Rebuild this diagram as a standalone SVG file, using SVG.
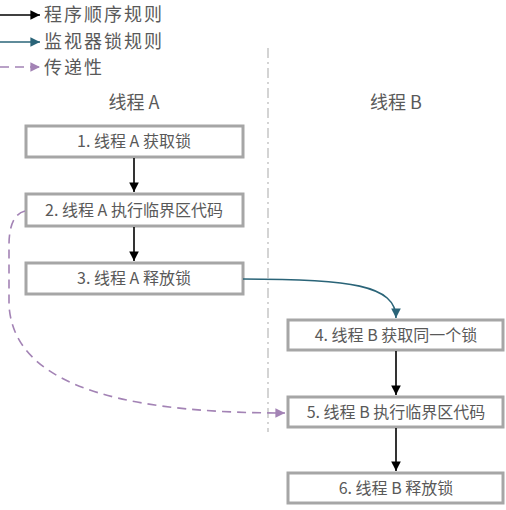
<svg xmlns="http://www.w3.org/2000/svg" width="506" height="510" viewBox="0 0 506 510">
<style>
text{font-family:"Noto Sans CJK SC","Liberation Sans",sans-serif;fill:#595959}
.box rect{fill:#fff;stroke:#a6a6a6;stroke-width:3}
.box text{font-size:16px;text-anchor:middle}
.hdr{font-size:18px;text-anchor:middle}
.leg{font-size:18px;letter-spacing:2px}
.blk{stroke:#000;stroke-width:1.6;fill:none}
.teal{stroke:#2a6478;stroke-width:1.6;fill:none}
.pur{stroke:#a383b5;stroke-width:1.6;fill:none;stroke-dasharray:9 6}
</style>
<defs>
<marker id="ab" viewBox="0 0 10 10" refX="10" refY="5" markerWidth="6" markerHeight="6" orient="auto" markerUnits="strokeWidth"><path d="M0,0L10,5L0,10z" fill="#000"/></marker>
<marker id="at" viewBox="0 0 10 10" refX="10" refY="5" markerWidth="6" markerHeight="6" orient="auto" markerUnits="strokeWidth"><path d="M0,0L10,5L0,10z" fill="#2a6478"/></marker>
<marker id="ap" viewBox="0 0 10 10" refX="10" refY="5" markerWidth="6" markerHeight="6" orient="auto" markerUnits="strokeWidth"><path d="M0,0L10,5L0,10z" fill="#a383b5"/></marker>
</defs>
<g id="legend">
<line class="blk" x1="0" y1="15" x2="40" y2="15" marker-end="url(#ab)"/>
<text class="leg" x="44" y="21">程序顺序规则</text>
<line class="teal" x1="0" y1="42" x2="40" y2="42" marker-end="url(#at)"/>
<text class="leg" x="44" y="48">监视器锁规则</text>
<line class="pur" x1="0" y1="67" x2="40" y2="67" stroke-dasharray="10 7" marker-end="url(#ap)"/>
<text class="leg" x="44" y="74">传递性</text>
</g>
<line id="divider" x1="268" y1="48" x2="268" y2="432" stroke="#b8b8b8" stroke-width="1.2" stroke-dasharray="10 4 2 4"/>
<text class="hdr" x="134" y="109">线程 A</text>
<text class="hdr" x="396" y="109">线程 B</text>
<g id="n1" class="box"><rect x="26" y="126" width="217" height="31"/><text x="134" y="147">1. 线程 A 获取锁</text></g>
<g id="n2" class="box"><rect x="26" y="194" width="217" height="32"/><text x="134" y="216">2. 线程 A 执行临界区代码</text></g>
<g id="n3" class="box"><rect x="26" y="263" width="217" height="31"/><text x="134" y="284">3. 线程 A 释放锁</text></g>
<g id="n4" class="box"><rect x="288" y="320" width="215" height="30"/><text x="396" y="341">4. 线程 B 获取同一个锁</text></g>
<g id="n5" class="box"><rect x="288" y="397" width="215" height="30"/><text x="396" y="418">5. 线程 B 执行临界区代码</text></g>
<g id="n6" class="box"><rect x="288" y="473" width="215" height="30"/><text x="396" y="494">6. 线程 B 释放锁</text></g>
<g id="connectors">
<line class="blk" x1="134" y1="158" x2="134" y2="192" marker-end="url(#ab)"/>
<line class="blk" x1="134" y1="227" x2="134" y2="261" marker-end="url(#ab)"/>
<line class="blk" x1="396" y1="351" x2="396" y2="395" marker-end="url(#ab)"/>
<line class="blk" x1="396" y1="428" x2="396" y2="471" marker-end="url(#ab)"/>
<path class="teal" d="M243,279 C350,279 396,285 396,318" marker-end="url(#at)"/>
<path class="pur" d="M25,211 C13,214 9,228 9,245 L9,305 C14,395 150,413 285,413" marker-end="url(#ap)"/>
</g>
</svg>
